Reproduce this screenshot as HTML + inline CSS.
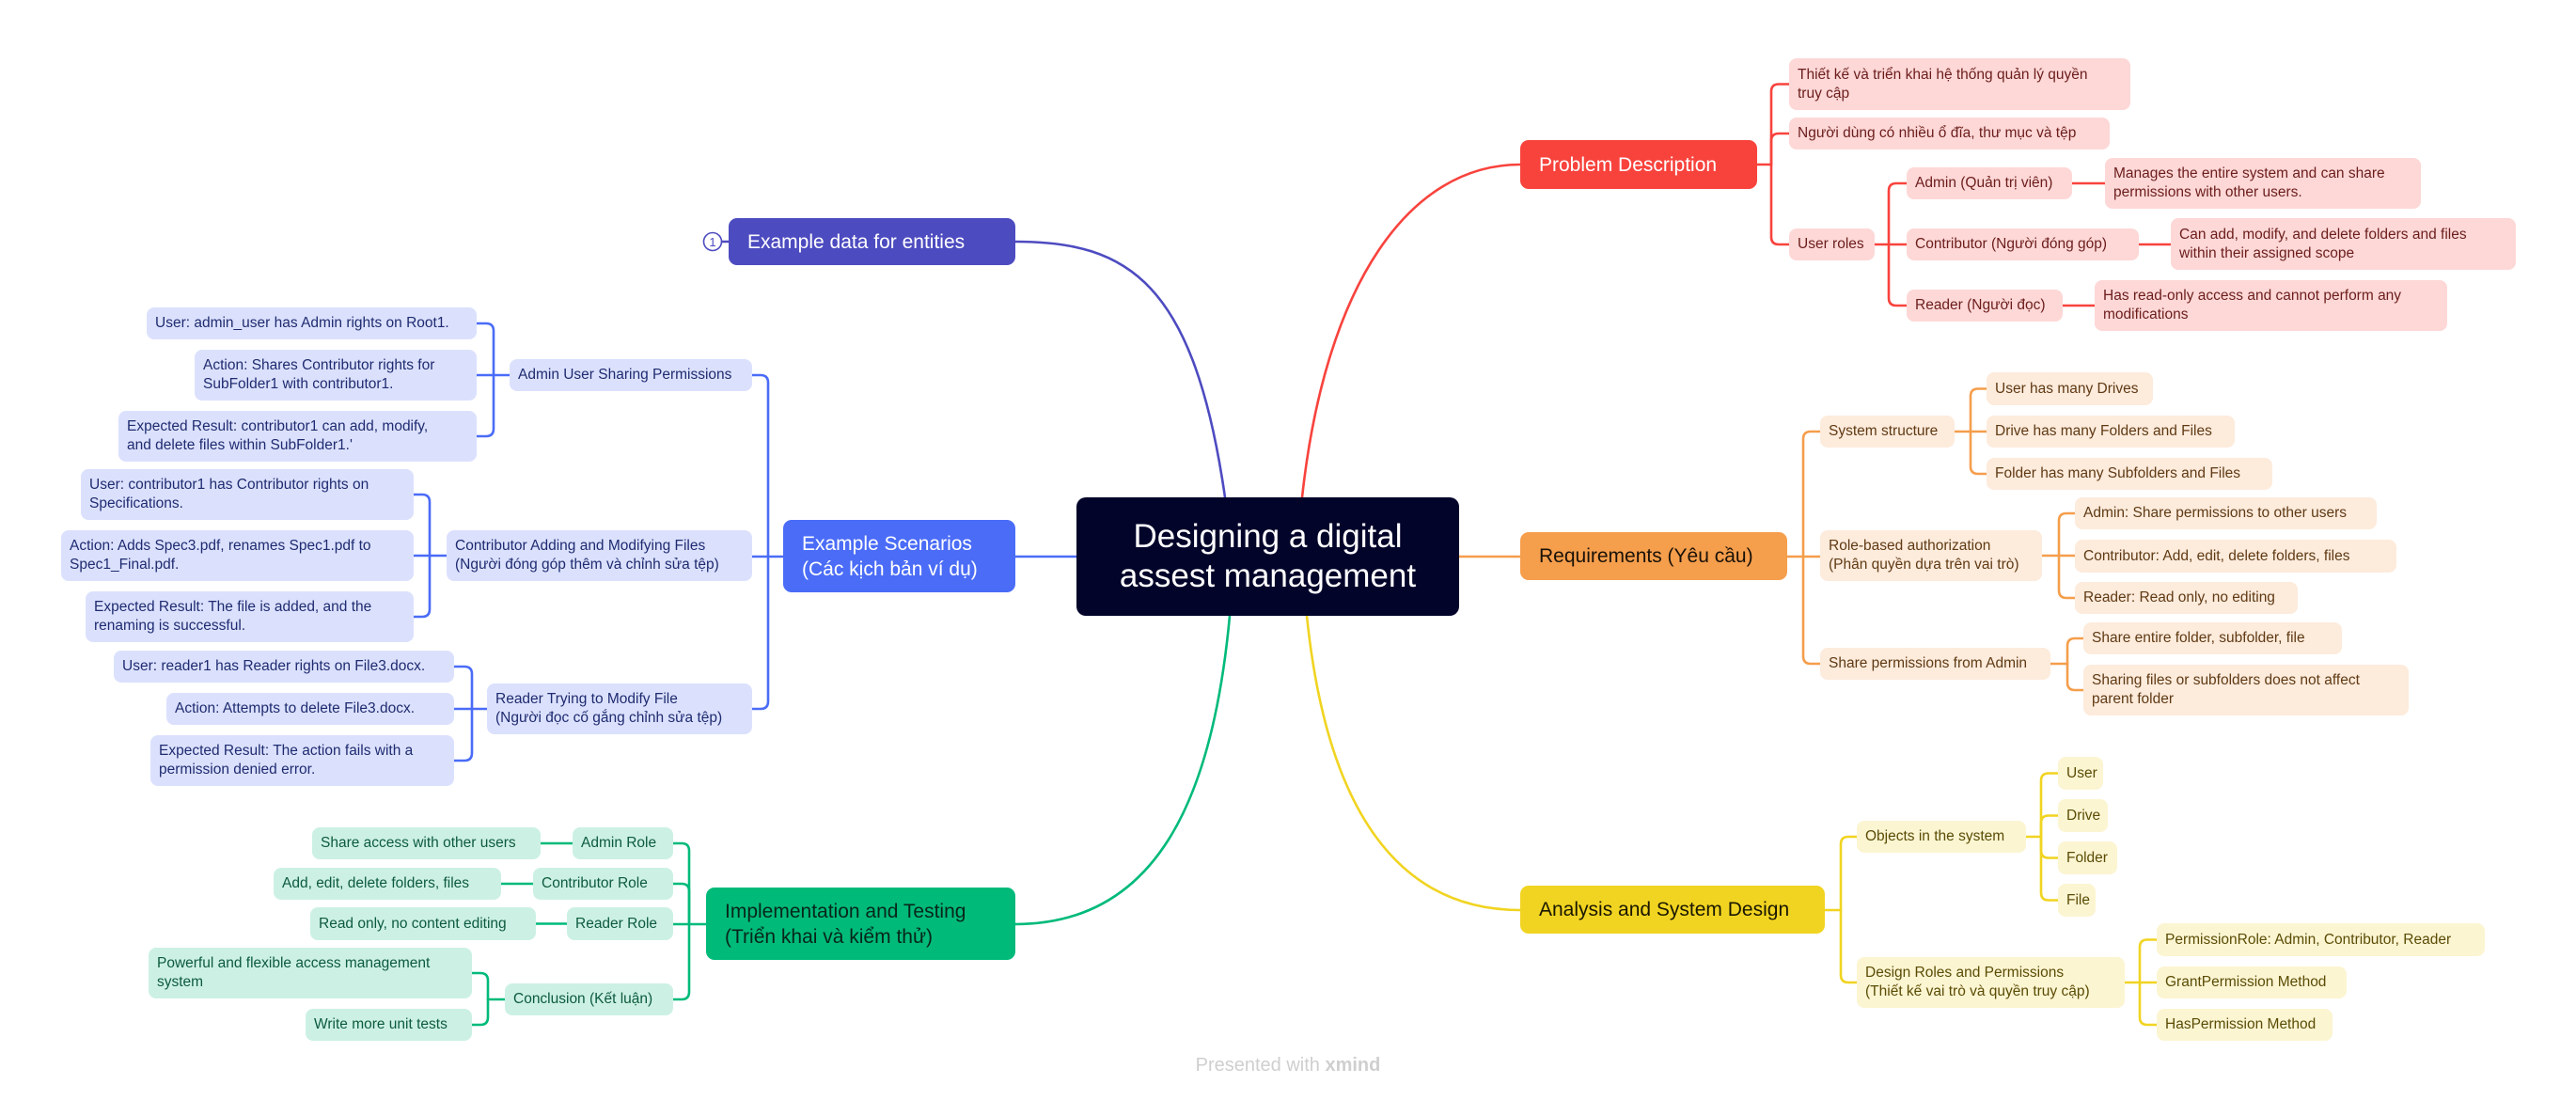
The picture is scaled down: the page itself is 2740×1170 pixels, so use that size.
<!DOCTYPE html>
<html><head><meta charset="utf-8"><style>
body{margin:0;background:#fff;}
#c{position:relative;width:2740px;height:1170px;overflow:hidden;background:#fff;font-family:"Liberation Sans","Noto Sans CJK SC",sans-serif;}
.n{position:absolute;box-sizing:border-box;display:flex;align-items:center;padding:0 9px;font-size:15.5px;line-height:20px;border-radius:8px;white-space:nowrap;}
.m{position:absolute;box-sizing:border-box;display:flex;align-items:center;padding:0 20px;font-size:21px;line-height:27px;border-radius:9px;white-space:nowrap;}
.r{background:#fdd8d7;color:#6b1d1b}
.o{background:#fdebdc;color:#5f3a14}
.y{background:#fcf5d2;color:#5a4c05}
.g{background:#ccf1e4;color:#0d5a3e}
.b{background:#dbe1fd;color:#1f2b70}
svg{position:absolute;left:0;top:0}
path{fill:none;stroke-width:2.6;stroke-linecap:round;stroke-linejoin:round}
</style></head><body><div id="c">
<svg width="2740" height="1170">
<g stroke="#f8433d"><path d="M1385 529C1410 300 1500 175 1617 175"/><path d="M1869 175H1884"/><path d="M1884 175V97.5Q1884 89.5 1892 89.5H1903"/><path d="M1884 175V150Q1884 142 1892 142H1903"/><path d="M1884 175V252Q1884 260 1892 260H1903"/><path d="M1994 260H2028"/><path d="M2009 260V203Q2009 195 2017 195H2028"/><path d="M2009 260V317Q2009 325 2017 325H2028"/><path d="M2204 195H2239"/><path d="M2275 260H2309"/><path d="M2194 325H2228"/></g>
<g stroke="#f59e4c"><path d="M1552 592H1617"/><path d="M1901 592H1918"/><path d="M1918 592V467Q1918 459 1926 459H1936"/><path d="M1918 592H1936"/><path d="M1918 592V698Q1918 706 1926 706H1936"/><path d="M2079 459H2113"/><path d="M2096 459V421.5Q2096 413.5 2104 413.5H2113"/><path d="M2096 459V496Q2096 504 2104 504H2113"/><path d="M2172 591H2207"/><path d="M2190 591V554Q2190 546 2198 546H2207"/><path d="M2190 591V628Q2190 636 2198 636H2207"/><path d="M2181 706H2199"/><path d="M2199 706V687Q2199 679 2207 679H2216"/><path d="M2199 706V726Q2199 734 2207 734H2216"/></g>
<g stroke="#f1d421"><path d="M1390 655C1410 850 1480 968 1617 968"/><path d="M1941 968H1958"/><path d="M1958 968V898Q1958 890 1966 890H1975"/><path d="M1958 968V1037Q1958 1045 1966 1045H1975"/><path d="M2155 890H2171"/><path d="M2171 890V830.5Q2171 822.5 2179 822.5H2189"/><path d="M2171 890V875.5Q2171 867.5 2179 867.5H2189"/><path d="M2171 890V904.5Q2171 912.5 2179 912.5H2189"/><path d="M2171 890V949.5Q2171 957.5 2179 957.5H2189"/><path d="M2260 1045H2294"/><path d="M2276 1045V1007.5Q2276 999.5 2284 999.5H2294"/><path d="M2276 1045V1082Q2276 1090 2284 1090H2294"/></g>
<g stroke="#4d4bc0"><path d="M1303 529C1270 300 1200 257 1080 257"/><path d="M758 257"/></g>
<g stroke="#4a6cf7"><path d="M1080 592H1145"/><path d="M833 592H800"/><path d="M817 592V407Q817 399 809 399H800"/><path d="M817 592V746Q817 754 809 754H800"/><path d="M542 399H507"/><path d="M525 399V352Q525 344 517 344H507"/><path d="M525 399V456Q525 464 517 464H507"/><path d="M475 591H440"/><path d="M457 591V534Q457 526 449 526H440"/><path d="M457 591V648Q457 656 449 656H440"/><path d="M518 754H483"/><path d="M502 754V717Q502 709 494 709H483"/><path d="M502 754V801Q502 809 494 809H483"/></g>
<g stroke="#00ba7a"><path d="M1308 655C1290 850 1230 983 1080 983"/><path d="M751 983H716"/><path d="M733 983V905Q733 897 725 897H716"/><path d="M733 983V948Q733 940 725 940H716"/><path d="M733 983V1055Q733 1063 725 1063H716"/><path d="M609 897H575"/><path d="M567 940H533"/><path d="M603 982.5H570"/><path d="M537 1063H519"/><path d="M519 1063V1043Q519 1035 511 1035H502"/><path d="M519 1063V1082Q519 1090 511 1090H502"/></g>
<circle cx="758" cy="257" r="9.5" fill="#fff" stroke="#4d4bc0" stroke-width="1.6"/>
<text x="758" y="262" font-size="13" text-anchor="middle" fill="#4d4bc0" font-family="Liberation Sans,sans-serif">1</text>
<path d="M768 257H775" stroke="#4d4bc0" stroke-width="1.6"/>
</svg>

<div class="m" style="left:1145px;top:529px;width:407px;height:126px;background:#02042a;color:#fff;font-size:35px;line-height:42px;justify-content:center;text-align:center;border-radius:10px;white-space:normal;">Designing a digital<br>assest management</div>

<div class="m" style="left:1617px;top:149px;width:252px;height:52px;background:#f8433d;color:#fff;">Problem Description</div>
<div class="m" style="left:1617px;top:566px;width:284px;height:51px;background:#f59e4c;color:#1a1208;">Requirements (Yêu cầu)</div>
<div class="m" style="left:1617px;top:942px;width:324px;height:51px;background:#f1d421;color:#1a1700;">Analysis and System Design</div>
<div class="m" style="left:775px;top:232px;width:305px;height:50px;background:#4d4bc0;color:#fff;">Example data for entities</div>
<div class="m" style="left:833px;top:553px;width:247px;height:77px;background:#4a6cf7;color:#fff;">Example Scenarios<br>(Các kịch bản ví dụ)</div>
<div class="m" style="left:751px;top:944px;width:329px;height:77px;background:#00ba7a;color:#08261a;">Implementation and Testing<br>(Triển khai và kiểm thử)</div>

<div class="n r" style="left:1903px;top:62px;width:363px;height:55px;">Thiết kế và triển khai hệ thống quản lý quyền<br>truy cập</div>
<div class="n r" style="left:1903px;top:125px;width:341px;height:34px;">Người dùng có nhiều ổ đĩa, thư mục và tệp</div>
<div class="n r" style="left:1903px;top:243px;width:91px;height:34px;">User roles</div>
<div class="n r" style="left:2028px;top:178px;width:176px;height:34px;">Admin (Quản trị viên)</div>
<div class="n r" style="left:2028px;top:243px;width:247px;height:34px;">Contributor (Người đóng góp)</div>
<div class="n r" style="left:2028px;top:308px;width:166px;height:34px;">Reader (Người đọc)</div>
<div class="n r" style="left:2239px;top:168px;width:336px;height:54px;">Manages the entire system and can share<br>permissions with other users.</div>
<div class="n r" style="left:2309px;top:232px;width:367px;height:55px;">Can add, modify, and delete folders and files<br>within their assigned scope</div>
<div class="n r" style="left:2228px;top:298px;width:375px;height:54px;">Has read-only access and cannot perform any<br>modifications</div>

<div class="n o" style="left:1936px;top:442px;width:143px;height:34px;">System structure</div>
<div class="n o" style="left:2113px;top:396px;width:177px;height:35px;">User has many Drives</div>
<div class="n o" style="left:2113px;top:442px;width:264px;height:34px;">Drive has many Folders and Files</div>
<div class="n o" style="left:2113px;top:487px;width:304px;height:34px;">Folder has many Subfolders and Files</div>
<div class="n o" style="left:1936px;top:564px;width:236px;height:54px;">Role-based authorization<br>(Phân quyền dựa trên vai trò)</div>
<div class="n o" style="left:2207px;top:529px;width:321px;height:34px;">Admin: Share permissions to other users</div>
<div class="n o" style="left:2207px;top:574px;width:342px;height:35px;">Contributor: Add, edit, delete folders, files</div>
<div class="n o" style="left:2207px;top:619px;width:237px;height:34px;">Reader: Read only, no editing</div>
<div class="n o" style="left:1936px;top:689px;width:245px;height:34px;">Share permissions from Admin</div>
<div class="n o" style="left:2216px;top:662px;width:275px;height:34px;">Share entire folder, subfolder, file</div>
<div class="n o" style="left:2216px;top:707px;width:346px;height:54px;">Sharing files or subfolders does not affect<br>parent folder</div>

<div class="n y" style="left:1975px;top:873px;width:180px;height:34px;">Objects in the system</div>
<div class="n y" style="left:2189px;top:805px;width:48px;height:35px;">User</div>
<div class="n y" style="left:2189px;top:850px;width:53px;height:35px;">Drive</div>
<div class="n y" style="left:2189px;top:895px;width:63px;height:35px;">Folder</div>
<div class="n y" style="left:2189px;top:940px;width:40px;height:35px;">File</div>
<div class="n y" style="left:1975px;top:1018px;width:285px;height:54px;">Design Roles and Permissions<br>(Thiết kế vai trò và quyền truy cập)</div>
<div class="n y" style="left:2294px;top:982px;width:349px;height:35px;">PermissionRole: Admin, Contributor, Reader</div>
<div class="n y" style="left:2294px;top:1028px;width:202px;height:34px;">GrantPermission Method</div>
<div class="n y" style="left:2294px;top:1073px;width:187px;height:34px;">HasPermission Method</div>

<div class="n b" style="left:542px;top:382px;width:258px;height:34px;">Admin User Sharing Permissions</div>
<div class="n b" style="left:156px;top:327px;width:351px;height:34px;">User: admin_user has Admin rights on Root1.</div>
<div class="n b" style="left:207px;top:372px;width:300px;height:54px;">Action: Shares Contributor rights for<br>SubFolder1 with contributor1.</div>
<div class="n b" style="left:126px;top:437px;width:381px;height:54px;">Expected Result: contributor1 can add, modify,<br>and delete files within SubFolder1.'</div>
<div class="n b" style="left:475px;top:564px;width:325px;height:54px;">Contributor Adding and Modifying Files<br>(Người đóng góp thêm và chỉnh sửa tệp)</div>
<div class="n b" style="left:86px;top:499px;width:354px;height:54px;">User: contributor1 has Contributor rights on<br>Specifications.</div>
<div class="n b" style="left:65px;top:564px;width:375px;height:54px;">Action: Adds Spec3.pdf, renames Spec1.pdf to<br>Spec1_Final.pdf.</div>
<div class="n b" style="left:91px;top:629px;width:349px;height:54px;">Expected Result: The file is added, and the<br>renaming is successful.</div>
<div class="n b" style="left:518px;top:727px;width:282px;height:54px;">Reader Trying to Modify File<br>(Người đọc cố gắng chỉnh sửa tệp)</div>
<div class="n b" style="left:121px;top:692px;width:362px;height:34px;">User: reader1 has Reader rights on File3.docx.</div>
<div class="n b" style="left:177px;top:737px;width:306px;height:34px;">Action: Attempts to delete File3.docx.</div>
<div class="n b" style="left:160px;top:782px;width:323px;height:54px;">Expected Result: The action fails with a<br>permission denied error.</div>

<div class="n g" style="left:609px;top:880px;width:107px;height:34px;">Admin Role</div>
<div class="n g" style="left:332px;top:880px;width:243px;height:34px;">Share access with other users</div>
<div class="n g" style="left:567px;top:923px;width:149px;height:34px;">Contributor Role</div>
<div class="n g" style="left:291px;top:923px;width:242px;height:34px;">Add, edit, delete folders, files</div>
<div class="n g" style="left:603px;top:965px;width:113px;height:35px;">Reader Role</div>
<div class="n g" style="left:330px;top:965px;width:240px;height:35px;">Read only, no content editing</div>
<div class="n g" style="left:537px;top:1046px;width:179px;height:34px;">Conclusion (Kết luận)</div>
<div class="n g" style="left:158px;top:1008px;width:344px;height:54px;">Powerful and flexible access management<br>system</div>
<div class="n g" style="left:325px;top:1073px;width:177px;height:34px;">Write more unit tests</div>

<div style="position:absolute;left:1258px;top:1120px;width:224px;text-align:center;font-size:20px;line-height:26px;color:#cfcfcf;white-space:nowrap;">Presented with <b>xmind</b></div>
</div></body></html>
